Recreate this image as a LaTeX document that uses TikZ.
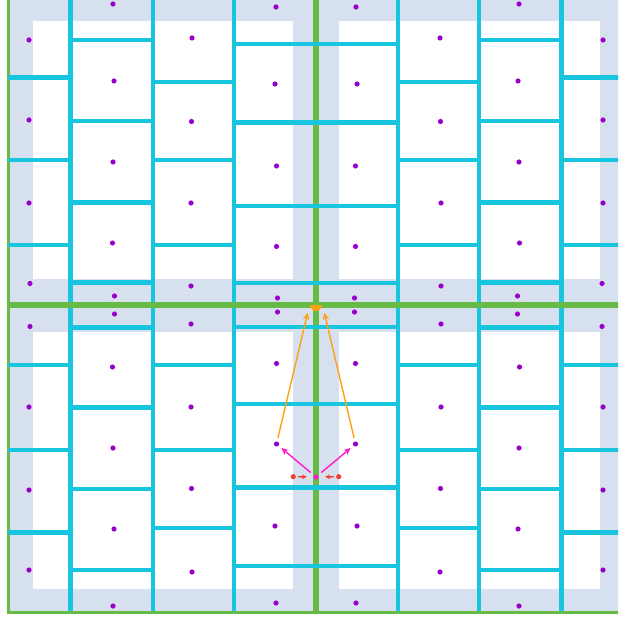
\documentclass[tikz,border=0pt]{standalone}
\usepackage{tikz}
\usetikzlibrary{arrows.meta}

\definecolor{tilebg}{HTML}{D6E0EE}
\definecolor{seam}{HTML}{17C6DE}
\definecolor{tileedge}{HTML}{66BB46}
\definecolor{sample}{HTML}{9A00CC}
\definecolor{pick}{HTML}{FF1ACC}
\definecolor{nbr}{HTML}{EE4030}
\definecolor{fetch}{HTML}{FFA012}

\begin{document}
\begin{tikzpicture}[x=0.025cm, y=-0.025cm,
  dot/.style={circle, fill=#1, inner sep=0pt, minimum size=3.7pt},
  dot/.default=sample,
  seamline/.style={draw=seam, line width=2.9pt},
  edgeline/.style={draw=tileedge, line width=1.8pt},
  nbrarrow/.style={draw=nbr, line width=1pt, -{Stealth[length=3.5pt, width=3.5pt]}},
  pickarrow/.style={draw=pick, line width=1pt, -{Stealth[length=5pt, width=4.5pt]}},
  fetcharrow/.style={draw=fetch, line width=1pt, -{Stealth[length=5pt, width=4.5pt]}}]
\useasboundingbox (0,0) rectangle (618,622);
\clip (0,0) rectangle (618,622);

% Tiles - grey border band with white inside
\foreach \xa/\xb/\wa/\wb in {7.5/316/32.5/293, 316/624.5/339/599.5}
  \foreach \ya/\yb/\va/\vb in {-4/305/21.5/278.5, 305/614/331.5/588.5} {
    \fill[tilebg] (\xa,\ya) rectangle (\xb,\yb);
    \fill[white] (\wa,\va) rectangle (\wb,\vb);
  }

% Vertical seams
\foreach \x in {70.5,152.7,234,398,479.3,561.5}
  \draw[seamline] (\x,-4) -- (\x,614);

% Tile borders
\foreach \xa/\xb in {8.75/314.75, 317.25/623.25}
  \foreach \ya/\yb in {-2.75/303.75, 306.25/612.75}
    \draw[edgeline] (\xa,\ya) rectangle (\xb,\yb);

% Horizontal seams, mirrored into all four tiles
\foreach \xa/\xb/\ys in {7.5/70.5/{77.5,160,245.3}, 70.5/152.7/{40,121,202.5,282.5},
                         152.7/234/{82.3,160,244.8}, 234/316/{43.7,122.5,206,282.7}}
  \foreach \y in \ys {
    \draw[seamline] (\xa,\y) -- (\xb,\y);
    \draw[seamline] ({632-\xa},\y) -- ({632-\xb},\y);
    \draw[seamline] (\xa,{610-\y}) -- (\xb,{610-\y});
    \draw[seamline] ({632-\xa},{610-\y}) -- ({632-\xb},{610-\y});
  }

% Sample points
\foreach \x/\y [count=\i] in {113/4, 276/7, 29/40, 192/38, 114/81, 275/84, 29/120,
    191.5/121.5, 113/162, 276.5/166, 29/203, 191/203, 112.5/243, 276.5/246.5,
    30/283.5, 191/286, 114.5/296, 277.5/298} {
  \node[dot] (tl\i) at (\x,\y) {};
  \node[dot] (tr\i) at ({632-\x},\y) {};
  \node[dot] (bl\i) at (\x,{610-\y}) {};
  \node[dot] (br\i) at ({632-\x},{610-\y}) {};
}

% Fetch target at the corner
\begin{scope}
  \clip (308,305) rectangle (324,314);
  \fill[fetch] (316,305) circle (6);
\end{scope}
\coordinate (hitL) at (307.7,312.7);
\coordinate (hitR) at (324.3,312.7);

% Current point and its neighbours
\node[dot=pick] (cur) at (316,477) {};
\node[dot=nbr] (nbL) at (293.3,476.7) {};
\node[dot=nbr] (nbR) at (338.7,476.7) {};

\draw[nbrarrow, shorten <=1.4pt, shorten >=4.5pt] (nbL) -- (cur);
\draw[nbrarrow, shorten <=1.4pt, shorten >=4.5pt] (nbR) -- (cur);
\draw[pickarrow, shorten <=2.8pt, shorten >=2.4pt] (cur) -- (bl10);
\draw[pickarrow, shorten <=2.8pt, shorten >=2.4pt] (cur) -- (br10);
\draw[fetcharrow, shorten <=2.4pt] (bl10) -- (hitL);
\draw[fetcharrow, shorten <=2.4pt] (br10) -- (hitR);
\end{tikzpicture}
\end{document}
